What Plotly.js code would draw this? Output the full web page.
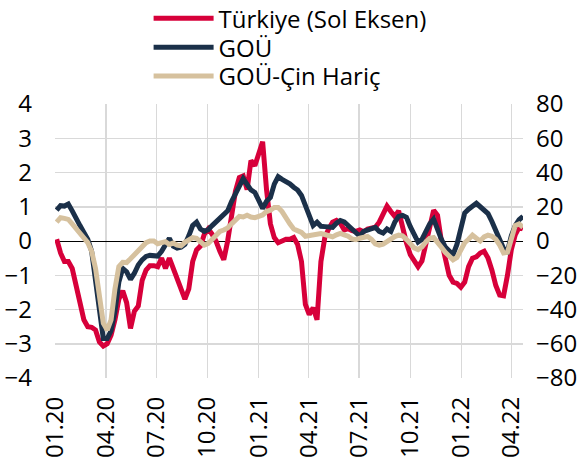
<!DOCTYPE html>
<html>
<head>
<meta charset="utf-8">
<script src="https://cdn.plot.ly/plotly-3.0.1.min.js"></script>
<style>html,body{margin:0;padding:0;background:#fff}#chart{width:584px;height:466px}</style>
</head>
<body>
<div id="chart"></div>
<script>
// Weekly observations starting 2020-01-03
var startDate = '2020-01-03';
var nWeeks = 121;

var tickVals = ['2020-01-01','2020-04-01','2020-07-01','2020-10-01','2021-01-01','2021-04-01','2021-07-01','2021-10-01','2022-01-01','2022-04-01'];
var tickLabels = ['01.20','04.20','07.20','10.20','01.21','04.21','07.21','10.21','01.22','04.22'];

var seriesNames = ['Türkiye (Sol Eksen)', 'GOÜ', 'GOÜ-Çin Hariç'];

// Türkiye (left axis)
var turkiye = [
  0.05, -0.35, -0.6, -0.6, -0.8, -1.25, -1.8, -2.3, -2.5, -2.52,
  -2.6, -2.95, -3.07, -3.0, -2.75, -2.3, -1.7, -1.45, -1.8, -2.55,
  -2.05, -1.9, -1.15, -0.85, -0.72, -0.72, -0.75, -0.5, -0.8, -0.5,
  -0.8, -1.1, -1.45, -1.7, -1.4, -0.6, -0.26, -0.15, 0.2, 0.35,
  0.2, 0.0, -0.3, -0.55, 0.0, 0.8, 1.45, 1.85, 1.9, 1.5,
  2.35, 2.2, 2.5, 2.9, 1.5, 0.5, 0.1, -0.05, 0.0, 0.05,
  0.05, 0.1, -0.1, -0.6, -1.85, -2.15, -1.95, -2.3, -0.6, 0.1,
  0.35, 0.55, 0.6, 0.52, 0.32, 0.36, 0.3, 0.28, 0.32, 0.27,
  0.35, 0.37, 0.4, 0.55, 0.75, 1.02, 0.86, 0.72, 0.88, 0.4,
  -0.05, -0.4, -0.6, -0.75, -0.58, -0.15, 0.4, 0.9, 0.75, 0.0,
  -0.55, -1.0, -1.2, -1.24, -1.35, -1.2, -0.75, -0.5, -0.46, -0.35,
  -0.3, -0.5, -0.85, -1.3, -1.58, -1.6, -1.0, -0.25, 0.18, 0.4,
  0.35
];

// GOÜ (right axis)
var gou = [
  18, 20.6, 20.4, 21.6, 17.6, 12.4, 9, 5, 1, -6,
  -21, -40, -57, -57, -52.4, -41, -24, -16, -18, -22.4,
  -18.8, -14, -11, -9, -8.4, -8.4, -8.8, -6, -2, 1.6,
  -3, -4.2, -3.6, -2, 3, 9, 11, 7, 5.6, 6.6,
  9, 11.2, 13.6, 14.8, 17.6, 23, 28, 32, 36.4, 33,
  29.8, 28.4, 24, 19, 23.2, 25.4, 33.2, 37.6, 36, 35,
  33.4, 31.4, 29.8, 26.6, 21, 14.4, 9, 11, 8.6, 8.4,
  8, 8, 10.4, 12, 11.2, 9, 7.4, 5, 2.8, 5.6,
  6.4, 7, 8, 5.6, 4.6, 7, 5.6, 11, 14.4, 15,
  13.8, 8.4, 3, -0.6, 1, 5.4, 10, 12.8, 6, 1,
  -3.6, -6, -8, -2, 8, 16.4, 18.6, 20.4, 22, 20,
  17.6, 16, 11.4, 6.4, 1.6, -4.4, -6, 3, 9, 12.4,
  14.4
];

// GOÜ-Çin Hariç (right axis)
var gouExChina = [
  11, 13.6, 13.2, 12.6, 10, 7.4, 5, 2, -1, -6,
  -16, -32, -48, -52, -46, -28, -15, -12.4, -12.6, -10.4,
  -8.2, -6, -3.4, -1, 0, 0, -1.6, -1, -0.4, -2,
  -1.2, -2.4, -2.8, -0.8, 0.4, 2, 1.6, -0.4, -2.4, -1.4,
  1, 4, 5.6, 6.4, 7.6, 10, 12.6, 14.4, 14, 15,
  14, 13.6, 14.4, 15.2, 17.2, 18, 19.6, 19.6, 17.2, 13.2,
  10, 7, 6, 5, 2.8, 3.2, 3.6, 3.6, 4.4, 3.8,
  3, 2.4, 3.6, 4.4, 3.6, 2.8, 1.2, 0.8, 1.6, 2.4,
  2.6, 1, -1.6, -2.4, -1.8, -0.4, 1.2, 2.6, 3.4, 3,
  1, -2, -4, -5, -3.4, -0.6, 1.6, 2, -0.4, -3.6,
  -6.6, -9, -11, -9.6, -5, -1, 1, 3.4, 1.6, 0,
  2.4, 3.4, 2.8, 1, -2.4, -7, -6.6, 1, 9, 10,
  8
];

// weekly date grid
var dates = [];
var d0 = new Date(startDate + 'T00:00:00Z');
for (var i = 0; i < nWeeks; i++) {
  var d = new Date(d0.getTime() + i * 7 * 86400000);
  dates.push(d.toISOString().slice(0, 10));
}

var FONT = '"Open Sans", "Noto Sans", sans-serif';
var FS = 24;

var traces = [
  {x: dates, y: turkiye, name: seriesNames[0], type: 'scatter', mode: 'lines',
   line: {color: '#d7003a', width: 5}, yaxis: 'y', legend: 'legend'},
  {x: dates, y: gou, name: seriesNames[1], type: 'scatter', mode: 'lines',
   line: {color: '#1b3049', width: 5}, yaxis: 'y2', legend: 'legend2'},
  {x: dates, y: gouExChina, name: seriesNames[2], type: 'scatter', mode: 'lines',
   line: {color: '#d6c19e', width: 5}, yaxis: 'y2', legend: 'legend3'}
];

function legendAt(yPaper) {
  return {
    x: 0.2, y: yPaper, xanchor: 'left', yanchor: 'top',
    orientation: 'v', font: {family: FONT, size: FS, color: '#000'},
    bgcolor: 'rgba(0,0,0,0)', borderwidth: 0, itemwidth: 60
  };
}

var layout = {
  width: 584, height: 466,
  margin: {l: 55, r: 61, t: 104, b: 88, pad: 0, autoexpand: false},
  paper_bgcolor: '#fff', plot_bgcolor: '#fff',
  font: {family: FONT, size: FS, color: '#000'},
  showlegend: true,
  legend: legendAt(1.394),
  legend2: legendAt(1.288),
  legend3: legendAt(1.1825),
  xaxis: {
    type: 'date', range: ['2019-12-31', '2022-04-22'],
    tickmode: 'array', tickvals: tickVals, ticktext: tickLabels,
    tickangle: -90, showgrid: true, gridcolor: '#d9d9d9', gridwidth: 1.5,
    zeroline: false, showline: false, ticks: '', ticklabelstandoff: 13,
    tickfont: {family: FONT, size: FS, color: '#000'}, fixedrange: true, automargin: false
  },
  yaxis: {
    range: [-4, 4], dtick: 1, tick0: 0, showgrid: true, gridcolor: '#d9d9d9', gridwidth: 1.5,
    zeroline: true, zerolinecolor: '#000', zerolinewidth: 1, showline: false,
    ticks: '', ticklabelstandoff: 22,
    tickfont: {family: FONT, size: FS, color: '#000'}, fixedrange: true, automargin: false
  },
  yaxis2: {
    range: [-80, 80], dtick: 20, tick0: 0, overlaying: 'y', side: 'right',
    showgrid: false, zeroline: false, showline: false, ticks: '', ticklabelstandoff: 12,
    tickfont: {family: FONT, size: FS, color: '#000'}, fixedrange: true, automargin: false
  }
};

Plotly.newPlot('chart', traces, layout, {displayModeBar: false, staticPlot: true});
</script>
</body>
</html>
